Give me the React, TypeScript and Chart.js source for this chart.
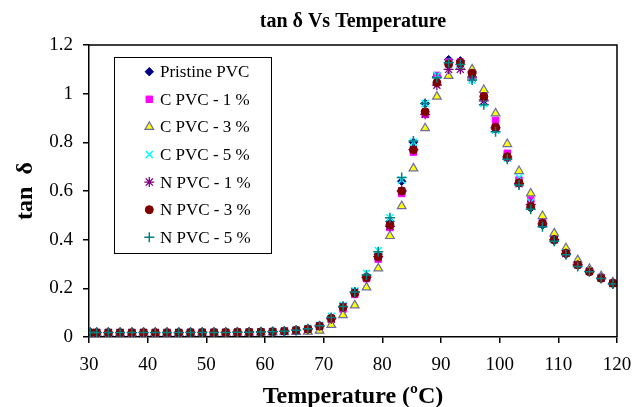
import React, { useEffect, useRef } from "react";
import { Chart, registerables } from "chart.js";
import { drawPoint } from "chart.js/helpers";

Chart.register(...registerables);

const temperatures = [
  30.2, 31.3, 33.3, 35.3, 37.3, 39.3, 41.3, 43.3, 45.3, 47.3, 49.3, 51.3, 53.3, 55.3, 57.3, 59.3, 61.3, 63.3,
  65.3, 67.3, 69.3, 71.3, 73.3, 75.3, 77.3, 79.3, 81.3, 83.3, 85.3, 87.3, 89.3, 91.3, 93.3, 95.3, 97.3, 99.3,
  101.3, 103.3, 105.3, 107.3, 109.3, 111.3, 113.3, 115.3, 117.3, 119.3,
];

const lowBase = [0.018, 0.018, 0.018, 0.018, 0.018, 0.018, 0.018, 0.018, 0.018, 0.019, 0.019, 0.019, 0.019, 0.02, 0.02, 0.021, 0.022, 0.024];
const lowC3 = [0.017, 0.017, 0.017, 0.017, 0.017, 0.017, 0.017, 0.017, 0.017, 0.017, 0.018, 0.018, 0.018, 0.018, 0.018, 0.019, 0.019, 0.02];

const pristinePVC = [...lowBase, 0.028, 0.034, 0.047, 0.08, 0.125, 0.185, 0.25, 0.34, 0.475, 0.64, 0.8, 0.96, 1.07, 1.14, 1.135, 1.07, 0.975, 0.855, 0.735, 0.63, 0.53, 0.46, 0.395, 0.34, 0.295, 0.268, 0.24, 0.218];
const cPVC1 = [...lowBase, 0.027, 0.032, 0.043, 0.072, 0.115, 0.175, 0.24, 0.32, 0.45, 0.59, 0.76, 0.915, 1.075, 1.13, 1.13, 1.085, 1.0, 0.89, 0.755, 0.645, 0.563, 0.475, 0.41, 0.35, 0.3, 0.272, 0.245, 0.222];
const cPVC3 = [...lowC3, 0.021, 0.022, 0.026, 0.05, 0.09, 0.13, 0.204, 0.282, 0.415, 0.538, 0.693, 0.858, 0.988, 1.073, 1.11, 1.1, 1.015, 0.919, 0.793, 0.682, 0.59, 0.497, 0.426, 0.365, 0.316, 0.28, 0.25, 0.225];
const cPVC5 = [...lowBase, 0.029, 0.035, 0.048, 0.085, 0.13, 0.19, 0.262, 0.355, 0.49, 0.645, 0.8, 0.96, 1.075, 1.12, 1.12, 1.055, 0.96, 0.85, 0.735, 0.655, 0.555, 0.465, 0.4, 0.345, 0.298, 0.27, 0.243, 0.22];
const nPVC1 = [...lowBase, 0.027, 0.032, 0.045, 0.075, 0.125, 0.185, 0.245, 0.33, 0.455, 0.6, 0.77, 0.915, 1.035, 1.1, 1.1, 1.065, 0.97, 0.86, 0.74, 0.63, 0.545, 0.465, 0.4, 0.343, 0.297, 0.27, 0.242, 0.22];
const nPVC3 = [...lowBase, 0.028, 0.033, 0.045, 0.077, 0.122, 0.18, 0.244, 0.33, 0.46, 0.6, 0.77, 0.926, 1.045, 1.122, 1.127, 1.084, 0.988, 0.862, 0.741, 0.634, 0.536, 0.467, 0.4, 0.344, 0.296, 0.268, 0.241, 0.221];
const nPVC5 = [...lowBase, 0.028, 0.034, 0.046, 0.08, 0.125, 0.185, 0.255, 0.35, 0.49, 0.655, 0.805, 0.96, 1.065, 1.127, 1.12, 1.056, 0.954, 0.844, 0.73, 0.625, 0.525, 0.453, 0.393, 0.338, 0.29, 0.268, 0.24, 0.218];

const seriesLabels = ["Pristine PVC", "C PVC - 1 %", "C PVC - 3 %", "C PVC - 5 %", "N PVC - 1 %", "N PVC - 3 %", "N PVC - 5 %"];
const seriesValues = [pristinePVC, cPVC1, cPVC3, cPVC5, nPVC1, nPVC3, nPVC5];

const xTicks = [30, 40, 50, 60, 70, 80, 90, 100, 110, 120];
const yTicks = [0, 0.2, 0.4, 0.6, 0.8, 1, 1.2];

const chartTitle = "tan \u03b4 Vs Temperature";
const xTitle = "Temperature (\u00baC)";
const yTitle = "tan  \u03b4";

const styles = [
  { pointStyle: "rectRot", radius: 4.2, fill: "#000080", stroke: "#000080", bw: 1 },
  { pointStyle: "rect", radius: 4.6, fill: "#FF00FF", stroke: "#FF00FF", bw: 1 },
  { pointStyle: "triangle", radius: 5, fill: "#FFFF00", stroke: "#6E6E9E", bw: 1.2 },
  { pointStyle: "crossRot", radius: 5, fill: "#00FFFF", stroke: "#00FFFF", bw: 1.5 },
  { pointStyle: "star", radius: 5, fill: "#800080", stroke: "#800080", bw: 1.3 },
  { pointStyle: "circle", radius: 4, fill: "#800000", stroke: "#800000", bw: 1 },
  { pointStyle: "cross", radius: 5, fill: "#008080", stroke: "#008080", bw: 1.5 },
];

const FONT = "'Liberation Serif', 'Times New Roman', serif";

const decorPlugin = {
  id: "decor",
  afterDraw(chart: any) {
    const { ctx, chartArea } = chart;
    const { left, right, top, bottom } = chartArea;
    ctx.save();
    ctx.strokeStyle = "#000";
    ctx.lineWidth = 1.5;
    ctx.beginPath();
    ctx.moveTo(left, top);
    ctx.lineTo(right, top);
    ctx.lineTo(right, bottom);
    ctx.stroke();

    ctx.fillStyle = "#000";
    ctx.textAlign = "center";
    ctx.textBaseline = "alphabetic";
    ctx.font = `bold 20px ${FONT}`;
    ctx.fillText(chartTitle, (left + right) / 2, 27);

    ctx.font = `bold 24px ${FONT}`;
    ctx.fillText(xTitle, (left + right) / 2, 403);

    ctx.save();
    ctx.translate(32, (top + bottom) / 2);
    ctx.rotate(-Math.PI / 2);
    ctx.fillText(yTitle, 0, 0);
    ctx.restore();

    const lx = 114, ly = 57, lw = 157, lh = 196;
    ctx.fillStyle = "#fff";
    ctx.fillRect(lx, ly, lw, lh);
    ctx.strokeStyle = "#000";
    ctx.lineWidth = 1;
    ctx.strokeRect(lx + 0.5, ly + 0.5, lw, lh);
    ctx.font = `17px ${FONT}`;
    ctx.textAlign = "left";
    ctx.textBaseline = "middle";
    seriesLabels.forEach((label, i) => {
      const y = 71.7 + i * 27.6;
      const s = styles[i];
      ctx.fillStyle = s.fill;
      ctx.strokeStyle = s.stroke;
      ctx.lineWidth = s.bw;
      drawPoint(ctx, { pointStyle: s.pointStyle, radius: s.radius, rotation: 0, borderWidth: s.bw }, 149.3, y);
      ctx.fillStyle = "#000";
      ctx.fillText(label, 160, y + 1);
    });
    ctx.restore();
  },
};

export default function App() {
  const canvasRef = useRef<HTMLCanvasElement | null>(null);

  useEffect(() => {
    const canvas = canvasRef.current;
    if (!canvas) return;
    const datasets = seriesLabels.map((label, i) => ({
      label,
      data: temperatures.map((t, j) => ({ x: t, y: seriesValues[i][j] })),
      showLine: false,
      pointStyle: styles[i].pointStyle,
      pointRadius: styles[i].radius,
      pointBackgroundColor: styles[i].fill,
      pointBorderColor: styles[i].stroke,
      pointBorderWidth: styles[i].bw,
      backgroundColor: styles[i].fill,
      borderColor: styles[i].stroke,
      order: seriesLabels.length - i,
    }));

    const chart = new Chart(canvas, {
      type: "scatter",
      data: { datasets },
      plugins: [decorPlugin],
      options: {
        responsive: false,
        animation: false,
        devicePixelRatio: 1,
        layout: { padding: { top: 45, right: 27, left: 0, bottom: 0 } },
        plugins: {
          legend: { display: false },
          title: { display: false },
          tooltip: { enabled: false },
        },
        scales: {
          x: {
            type: "linear",
            min: 30,
            max: 120,
            afterFit(scale: any) {
              scale.height = 70;
            },
            afterBuildTicks(scale: any) {
              scale.ticks = xTicks.map((v) => ({ value: v }));
            },
            ticks: {
              font: { family: FONT, size: 19 },
              color: "#000",
              padding: 11,
              maxRotation: 0,
              autoSkip: false,
            },
            grid: {
              drawOnChartArea: false,
              drawTicks: true,
              tickLength: 6,
              color: "#000",
              lineWidth: 1.5,
            },
            border: { color: "#000", width: 1.5 },
          },
          y: {
            type: "linear",
            min: 0,
            max: 1.2,
            afterFit(scale: any) {
              scale.width = 89;
            },
            afterBuildTicks(scale: any) {
              scale.ticks = yTicks.map((v) => ({ value: v }));
            },
            ticks: {
              font: { family: FONT, size: 19 },
              color: "#000",
              padding: 10,
              autoSkip: false,
              callback: (v: any) => String(Number(Number(v).toFixed(1))),
            },
            grid: {
              drawOnChartArea: false,
              drawTicks: true,
              tickLength: 6,
              color: "#000",
              lineWidth: 1.5,
            },
            border: { color: "#000", width: 1.5 },
          },
        },
      },
    });
    return () => chart.destroy();
  }, []);

  return (
    <div style={{ position: "fixed", left: 0, top: 0, width: 644, height: 407, background: "#fff" }}>
      <canvas ref={canvasRef} width={644} height={407} style={{ display: "block", width: 644, height: 407 }} />
    </div>
  );
}
